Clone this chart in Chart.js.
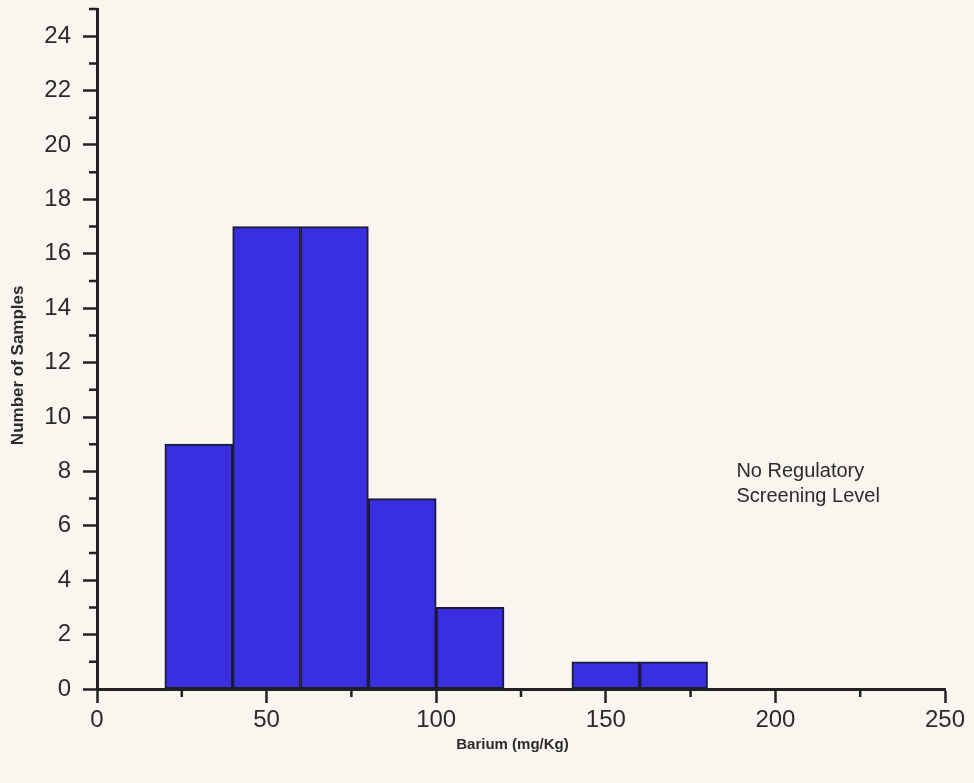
<!DOCTYPE html>
<html>
<head>
<meta charset="utf-8">
<title>Barium histogram</title>
<script src="https://cdn.jsdelivr.net/npm/chart.js@4/dist/chart.umd.min.js"></script>
<style>
  html, body { margin: 0; padding: 0; background: #f9f6ef; }
  #wrap { width: 974px; height: 783px; position: relative; }
</style>
</head>
<body>
<div id="wrap"><canvas id="c" width="974" height="783"></canvas></div>
<script>
// Histogram bins (mg/Kg): lower edge of each bin and the bin width
const binStarts = [20, 40, 60, 80, 100, 120, 140, 160];
const binWidth = 20;
// Number of samples falling into each bin
const sampleCounts = [9, 17, 17, 7, 3, 0, 1, 1];

// Axis tick values
const xMajorTicks = [0, 50, 100, 150, 200, 250];
const xMinorTicks = [25, 75, 125, 175, 225];
const yMajorTicks = [0, 2, 4, 6, 8, 10, 12, 14, 16, 18, 20, 22, 24];
const yMinorTicks = [1, 3, 5, 7, 9, 11, 13, 15, 17, 19, 21, 23, 25];

const xTitle = 'Barium (mg/Kg)';
const yTitle = 'Number of Samples';
const noteLines = ['No Regulatory', 'Screening Level'];

const INK = '#2b2b2b';
const AXIS = '#222222';
const FONT = '"Liberation Sans", Arial, sans-serif';

const points = binStarts.map((s, i) => ({ x: s + binWidth / 2, y: sampleCounts[i] }));

// Minor tick marks, axis titles and the free text note
const extras = {
  id: 'extras',
  afterDraw(chart) {
    const { ctx, scales: { x, y } } = chart;
    ctx.save();
    ctx.strokeStyle = AXIS;
    ctx.lineWidth = 2.5;
    ctx.beginPath();
    xMinorTicks.forEach(v => {
      const px = x.getPixelForValue(v);
      ctx.moveTo(px, y.bottom);
      ctx.lineTo(px, y.bottom + 8);
    });
    yMinorTicks.forEach(v => {
      const py = y.getPixelForValue(v);
      ctx.moveTo(x.left, py);
      ctx.lineTo(x.left - 8, py);
    });
    ctx.stroke();

    ctx.fillStyle = INK;
    ctx.textAlign = 'center';
    ctx.textBaseline = 'middle';

    // x axis title, a little left of the plot centre
    ctx.font = 'bold 15px ' + FONT;
    ctx.fillText(xTitle, x.getPixelForValue(122.5), y.bottom + 56);

    // y axis title, rotated, sitting slightly below the plot centre
    ctx.save();
    ctx.translate(18, y.getPixelForValue(11.9));
    ctx.rotate(-Math.PI / 2);
    ctx.font = 'bold 17px ' + FONT;
    ctx.fillText(yTitle, 0, 0);
    ctx.restore();

    ctx.font = '20px ' + FONT;
    ctx.textAlign = 'left';
    const tx = x.getPixelForValue(188.5);
    const ty = y.getPixelForValue(8.0);
    noteLines.forEach((t, i) => ctx.fillText(t, tx, ty + i * 25));
    ctx.restore();
  }
};

new Chart(document.getElementById('c'), {
  type: 'bar',
  data: {
    datasets: [{
      data: points,
      backgroundColor: '#3a2fe0',
      borderColor: '#1b1a3a',
      borderWidth: 2,
      borderSkipped: false,
      barPercentage: 1,
      categoryPercentage: 1
    }]
  },
  options: {
    responsive: false,
    animation: false,
    layout: { autoPadding: false, padding: { top: 9, right: 29, left: 0, bottom: 0 } },
    plugins: { legend: { display: false }, tooltip: { enabled: false } },
    scales: {
      x: {
        type: 'linear',
        min: 0,
        max: 250,
        offset: false,
        afterBuildTicks: s => { s.ticks = xMajorTicks.map(v => ({ value: v })); },
        afterFit: s => { s.height = 94; s.paddingLeft = 0; s.paddingRight = 0; },
        grid: {
          display: true, drawOnChartArea: false, drawTicks: true, offset: false,
          tickLength: 14, tickWidth: 2.5, tickColor: AXIS
        },
        border: { display: true, color: AXIS, width: 3 },
        ticks: {
          color: INK, padding: 3, maxRotation: 0,
          font: { family: FONT, size: 24 }
        },
        title: { display: false }
      },
      y: {
        type: 'linear',
        min: 0,
        max: 25,
        afterBuildTicks: s => { s.ticks = yMajorTicks.map(v => ({ value: v })); },
        afterFit: s => { s.width = 97; s.paddingTop = 0; s.paddingBottom = 0; },
        grid: {
          display: true, drawOnChartArea: false, drawTicks: true,
          tickLength: 14, tickWidth: 2.5, tickColor: AXIS
        },
        border: { display: true, color: AXIS, width: 3 },
        ticks: {
          color: INK, padding: 12,
          font: { family: FONT, size: 24 }
        },
        title: { display: false }
      }
    }
  },
  plugins: [extras]
});
</script>
</body>
</html>
